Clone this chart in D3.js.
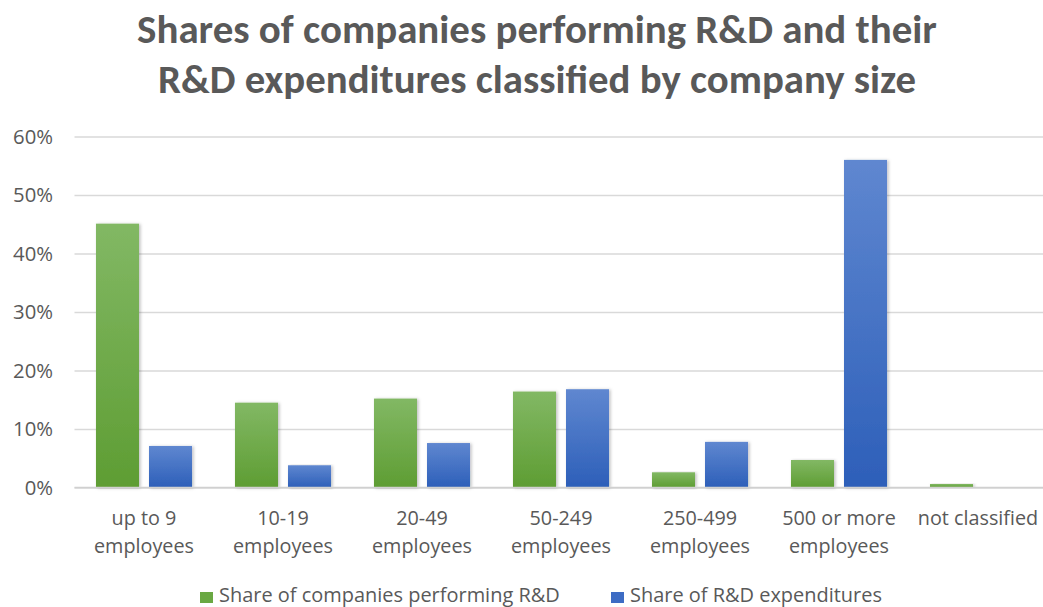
<!DOCTYPE html>
<html>
<head>
<meta charset="utf-8">
<script src="https://cdn.jsdelivr.net/npm/d3@7"></script>
<style>
  html, body { margin: 0; padding: 0; background: #fff; }
  svg { display: block; }
  text { font-family: "Open Sans", Lato, sans-serif; fill: #595959; }
  .title { font-family: Carlito, Lato, "Open Sans", sans-serif; font-weight: bold; }
</style>
</head>
<body>
<svg id="chart" width="1043" height="607"></svg>
<script>
// Company size classes
const categories = [
  ["up to 9", "employees"],
  ["10-19", "employees"],
  ["20-49", "employees"],
  ["50-249", "employees"],
  ["250-499", "employees"],
  ["500 or more", "employees"],
  ["not classified"]
];
const seriesNames = ["Share of companies performing R&D", "Share of R&D expenditures"];
// Shares (fractions) per size class
const companiesShare = [0.451, 0.145, 0.152, 0.164, 0.026, 0.047, 0.006];
const expenditureShare = [0.071, 0.038, 0.076, 0.168, 0.078, 0.560, 0.000];
const yTicks = [0, 0.1, 0.2, 0.3, 0.4, 0.5, 0.6];
const titleLines = [
  "Shares of companies performing R&D and their",
  "R&D expenditures classified by company size"
];

const svg = d3.select("#chart");
const plot = { left: 74.5, right: 1047.5, top: 136.5, bottom: 487.5 };

// size a font so that a sample string spans the given width
function fitSize(sample, width, cls, base) {
  const t = svg.append("text").attr("class", cls || null)
    .style("font-size", base + "px").text(sample);
  const w = t.node().getComputedTextLength();
  t.remove();
  return base * width / w;
}

// gradients for bar fills
const defs = svg.append("defs");
function grad(id, top, bottom) {
  const g = defs.append("linearGradient").attr("id", id)
    .attr("x1", 0).attr("y1", 0).attr("x2", 0).attr("y2", 1);
  g.append("stop").attr("offset", "0%").attr("stop-color", top);
  g.append("stop").attr("offset", "100%").attr("stop-color", bottom);
}
grad("gGreen", "#82b864", "#5e9d33");
grad("gBlue", "#5f87d0", "#2d5fb9");
const sh = defs.append("filter").attr("id", "shadow")
  .attr("x", "-20%").attr("y", "-5%").attr("width", "150%").attr("height", "115%");
sh.append("feDropShadow").attr("dx", 1.5).attr("dy", 0.5).attr("stdDeviation", 1.5)
  .attr("flood-color", "#000").attr("flood-opacity", 0.25);

const colors = ["url(#gGreen)", "url(#gBlue)"];
const legendColors = ["#6aa843", "#3d6cc4"];

const x0 = d3.scaleBand()
  .domain(d3.range(categories.length))
  .range([plot.left, plot.right])
  .paddingInner(0.309)
  .paddingOuter(0.1545);
const x1 = d3.scaleBand()
  .domain([0, 1])
  .range([0, x0.bandwidth()])
  .paddingInner(0.1887);
const y = d3.scaleLinear().domain([0, 0.6]).range([plot.bottom, plot.top]);

// title, fitted to its width
const titleWidths = [800, 758];
const titleBase = [43, 93];
titleLines.forEach((t, i) => {
  const fs = fitSize(t, titleWidths[i], "title", 36);
  svg.append("text").attr("class", "title")
    .attr("x", 537).attr("y", titleBase[i])
    .attr("text-anchor", "middle")
    .style("font-size", fs.toFixed(2) + "px")
    .text(t);
});

const tickSize = fitSize("60%", 40, null, 20);
const catSize = fitSize("employees", 100, null, 20);
const legendSize = fitSize(seriesNames[0], 341, null, 20);

// gridlines and y axis
const yAxis = d3.axisLeft(y).tickValues(yTicks)
  .tickFormat(d3.format(".0%"))
  .tickSize(-(plot.right - plot.left)).tickPadding(21.5);
const gy = svg.append("g").attr("transform", `translate(${plot.left},0)`).call(yAxis);
gy.select(".domain").remove();
gy.selectAll(".tick line").attr("stroke", "#d9d9d9").attr("stroke-width", 1.5);
gy.selectAll(".tick text")
  .style("font-size", tickSize.toFixed(2) + "px")
  .style("font-family", "'Open Sans', Lato, sans-serif")
  .attr("fill", "#595959");

// bars
const values = [companiesShare, expenditureShare];
const groups = svg.append("g").selectAll("g")
  .data(categories.map((c, i) => i))
  .join("g")
  .attr("transform", i => `translate(${x0(i)},0)`);
groups.selectAll("rect")
  .data(i => values.map((v, s) => ({ s, v: v[i] })).filter(d => d.v > 0))
  .join("rect")
  .attr("x", d => x1(d.s))
  .attr("width", x1.bandwidth())
  .attr("y", d => y(d.v))
  .attr("height", d => y(0) - y(d.v))
  .attr("fill", d => colors[d.s])
  .attr("filter", "url(#shadow)");

// baseline
svg.append("line")
  .attr("x1", plot.left).attr("x2", plot.right)
  .attr("y1", y(0)).attr("y2", y(0))
  .attr("stroke", "#d0d0d0").attr("stroke-width", 1.5);

// category labels
const lab = svg.append("g").selectAll("text")
  .data(categories)
  .join("text")
  .attr("x", (d, i) => x0(i) + x0.bandwidth() / 2)
  .attr("y", 525)
  .attr("text-anchor", "middle")
  .style("font-size", catSize.toFixed(2) + "px");
lab.selectAll("tspan")
  .data(d => d)
  .join("tspan")
  .attr("x", function () { return this.parentNode.getAttribute("x"); })
  .attr("dy", (d, i) => i === 0 ? 0 : 28)
  .text(d => d);

// legend
const legendX = [200, 611];
const lg = svg.append("g").selectAll("g")
  .data(seriesNames)
  .join("g")
  .attr("transform", (d, i) => `translate(${legendX[i]},0)`);
lg.append("rect").attr("x", 0).attr("y", 592).attr("width", 13).attr("height", 11)
  .attr("fill", (d, i) => legendColors[i]);
lg.append("text").attr("x", 19).attr("y", 602)
  .style("font-size", legendSize.toFixed(2) + "px").text(d => d);
</script>
</body>
</html>
